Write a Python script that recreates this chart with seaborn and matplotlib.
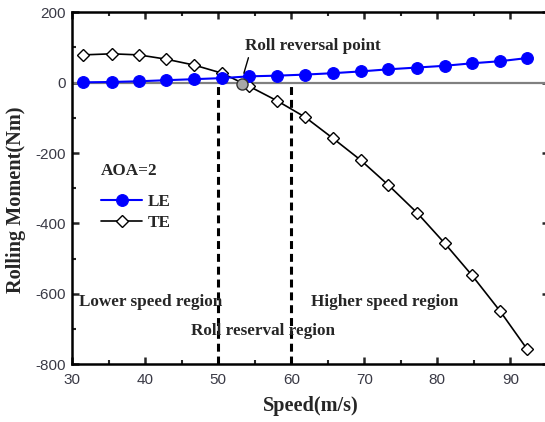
import numpy as np
import pandas as pd
import matplotlib
matplotlib.use("Agg")
import matplotlib.pyplot as plt
import seaborn as sns
from matplotlib.ticker import MultipleLocator

# ---------- data ----------
speed = [31.5, 35.4, 39.1, 42.8, 46.7, 50.5, 54.2, 58.1, 61.9,
         65.7, 69.5, 73.3, 77.2, 81.0, 84.7, 88.6, 92.3]
le_moment = [1, 2, 4, 7, 10, 13, 18, 20, 23, 27, 32, 38, 43, 48, 55, 61, 70]
te_moment = [79, 82, 79, 67, 50, 27, -10, -52, -98, -158, -220,
             -291, -369, -456, -546, -649, -757]
reversal_speed = [53.3]
reversal_moment = [-5]
region_bounds = [50, 60]

df = pd.DataFrame({"speed": speed, "LE": le_moment, "TE": te_moment})

# ---------- style ----------
sns.set_style("ticks")
plt.rcParams["font.family"] = ["Liberation Sans", "DejaVu Sans"]
plt.rcParams["axes.unicode_minus"] = False
serif = {"family": ["Liberation Serif", "DejaVu Serif"], "weight": "bold"}

fig = plt.figure(figsize=(5.45, 4.22), dpi=100)
ax = fig.add_axes([0.1327, 0.1367, 0.8747, 0.8342])

ax.axhline(0, color="#808080", lw=1.6, zorder=1)
ax.vlines(region_bounds, ymin=-800, ymax=0, colors="black",
          linestyles=(0, (2.6, 1.6)), lw=2.2, zorder=1)

sns.lineplot(data=df, x="speed", y="LE", ax=ax, color="blue", lw=1.5,
             marker="o", markersize=8.5, markeredgecolor="blue",
             label="LE", zorder=3)
sns.lineplot(data=df, x="speed", y="TE", ax=ax, color="black", lw=1.2,
             marker="D", markersize=6.6, markerfacecolor="white",
             markeredgecolor="black", markeredgewidth=1.0,
             label="TE", zorder=2)
ax.plot(reversal_speed, reversal_moment, "o", color="#a8a8a8",
        markeredgecolor="#333333", markersize=8, zorder=4)

ax.annotate("Roll reversal point", xy=(53.5, 27), xytext=(53.7, 103),
            ha="left", va="center", fontsize=12.3, **serif,
            arrowprops=dict(arrowstyle="-", color="black", lw=1,
                            shrinkA=0, shrinkB=0,
                            relpos=(0.03, 0.0)))

ax.text(30.9, -623, "Lower speed region", fontsize=12.3, **serif,
        ha="left", va="center")
ax.text(62.7, -623, "Higher speed region", fontsize=12.3, **serif,
        ha="left", va="center")
ax.text(46.3, -706, "Roll reserval region", fontsize=12.3, **serif,
        ha="left", va="center")
ax.text(33.9, -252, "AOA=2", fontsize=12.3, **serif,
        ha="left", va="center")

# ---------- axes ----------
ax.set_xlim(30, 95.3)
ax.set_ylim(-800, 200)
ax.xaxis.set_major_locator(MultipleLocator(10))
ax.xaxis.set_minor_locator(MultipleLocator(5))
ax.yaxis.set_major_locator(MultipleLocator(200))
ax.yaxis.set_minor_locator(MultipleLocator(100))
ax.tick_params(which="both", direction="in", top=True, right=True,
               labelsize=11, labelcolor="#3a3a46")
ax.tick_params(which="major", length=5, width=1.8)
ax.tick_params(which="minor", length=3, width=1.5)
ax.tick_params(axis="x", pad=6)
ax.tick_params(axis="y", pad=4.5)
for sp in ax.spines.values():
    sp.set_linewidth(1.8)
    sp.set_color("black")

ax.set_xlabel("Speed(m/s)", fontsize=14.6, **serif, labelpad=7)
ax.set_ylabel("Rolling Moment(Nm)", fontsize=14.6, **serif)
ax.yaxis.set_label_coords(-0.097, 0.467)

leg = ax.legend(loc="upper left", bbox_to_anchor=(0.0605, 0.484),
                frameon=False,
                prop={"family": ["Liberation Serif"], "weight": "bold",
                      "size": 12.3},
                handlelength=2.4, handletextpad=0.3,
                borderpad=0, borderaxespad=0, labelspacing=0.3)

fig.savefig("out.png", dpi=100)
